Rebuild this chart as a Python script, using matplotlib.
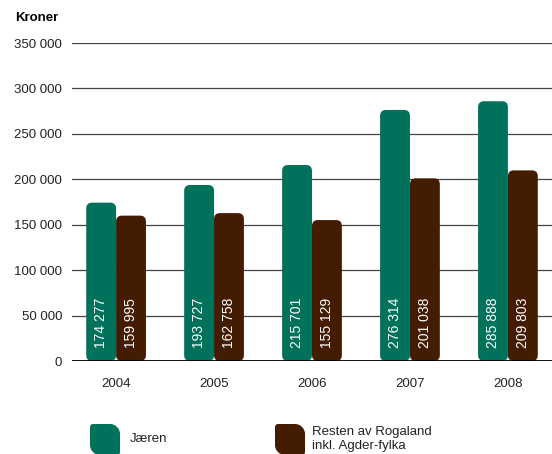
import matplotlib
matplotlib.use("Agg")
import matplotlib.pyplot as plt
from matplotlib.patches import FancyBboxPatch, PathPatch
from matplotlib.path import Path
from matplotlib.transforms import IdentityTransform

years = ["2004", "2005", "2006", "2007", "2008"]
jaeren = [174277, 193727, 215701, 276314, 285888]
resten = [159995, 162758, 155129, 201038, 209803]
yticks = [0, 50000, 100000, 150000, 200000, 250000, 300000, 350000]
series_names = ["Jæren", "Resten av Rogaland\ninkl. Agder-fylka"]

green = "#00725c"
brown = "#431c02"

plt.rcParams["font.family"] = ["Liberation Sans", "DejaVu Sans"]

W, H = 552, 454
fig = plt.figure(figsize=(W / 100, H / 100), dpi=100)
ax = fig.add_axes([72 / W, 1 - 361 / H, 1 - 72 / W, 318 / H])
ax.set_xlim(-0.45, 4.45)
ax.set_ylim(0, 350000)

for y in yticks[1:]:
    ax.axhline(y, color="#444444", lw=0.9, zorder=1)
ax.axhline(0, color="black", lw=1.3, zorder=4)

# aspect: data-y per data-x for one pixel
px_x = 4.9 / 480
px_y = 350000 / 318
aspect = px_y / px_x
w = 0.305


def rbar(x0, h, color):
    p = FancyBboxPatch((x0, 0), w, h,
                       boxstyle="round,pad=0,rounding_size=0.06",
                       mutation_aspect=aspect, fc=color, ec="none", zorder=2)
    ax.add_patch(p)


for i, (a, b) in enumerate(zip(jaeren, resten)):
    rbar(i - w, a, green)
    rbar(i, b, brown)
    for xc, v in ((i - w / 2, a), (i + w / 2, b)):
        ax.text(xc, 13 * px_y, f"{v:,}".replace(",", " "), rotation=90,
                ha="center", va="bottom", color="white", fontsize=10, zorder=3)

ax.set_yticks(yticks)
ax.set_yticklabels([f"{v:,}".replace(",", " ") for v in yticks], fontsize=9.5, color="#222222")
ax.set_xticks(range(len(years)))
ax.set_xticklabels(years, fontsize=9.5, color="#222222")
ax.tick_params(length=0, pad=7, axis="y")
ax.tick_params(length=0, pad=12, axis="x")
for s in ax.spines.values():
    s.set_visible(False)

fig.text(15 / W, 1 - 18 / H, "Kroner", fontsize=9.5, fontweight="bold", va="center")


def leaf(x0, y0, x1, y1, big, small):
    # pixel coords with y measured from top; rounded top-right and bottom-left
    k = 0.55
    def P(x, y):
        return (x, H - y)
    verts = [P(x0 + small, y0), P(x1 - big, y0),
             P(x1 - big * (1 - k), y0), P(x1, y0 + big * (1 - k)), P(x1, y0 + big),
             P(x1, y1 - small),
             P(x1, y1 - small * (1 - k)), P(x1 - small * (1 - k), y1), P(x1 - small, y1),
             P(x0 + big, y1),
             P(x0 + big * (1 - k), y1), P(x0, y1 - big * (1 - k)), P(x0, y1 - big),
             P(x0, y0 + small),
             P(x0, y0 + small * (1 - k)), P(x0 + small * (1 - k), y0), P(x0 + small, y0),
             P(x0 + small, y0)]
    codes = ([Path.MOVETO, Path.LINETO] + [Path.CURVE4] * 3 + [Path.LINETO] +
             [Path.CURVE4] * 3 + [Path.LINETO] + [Path.CURVE4] * 3 + [Path.LINETO] +
             [Path.CURVE4] * 3 + [Path.CLOSEPOLY])
    return Path(verts, codes)


for (x0, tx, color, name) in ((90, 130, green, series_names[0]),
                              (275, 312, brown, series_names[1])):
    sq = PathPatch(leaf(x0, 424, x0 + 30, 455, 10, 3), transform=IdentityTransform(),
                   fc=color, ec="none")
    fig.patches.append(sq)
    fig.text(tx / W, 1 - 439 / H, name, fontsize=9.5, va="center",
             color="#222222", linespacing=1.3)

fig.savefig("out.png", dpi=100)
